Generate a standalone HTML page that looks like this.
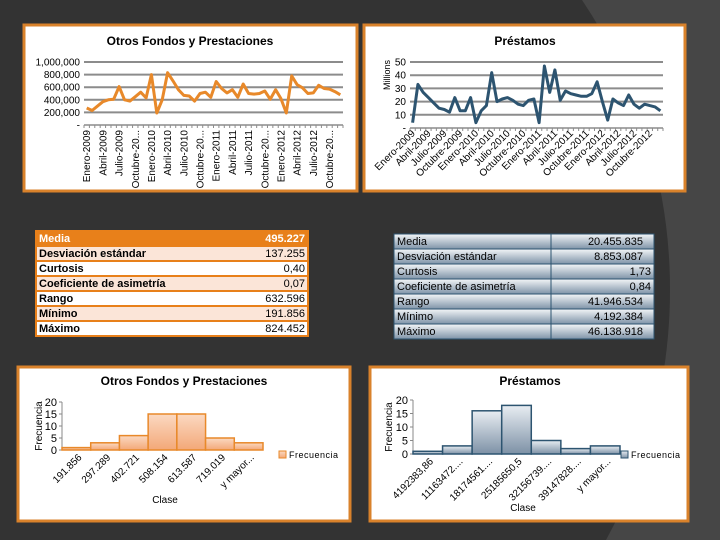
<!DOCTYPE html>
<html><head><meta charset="utf-8">
<style>
html,body{margin:0;width:720px;height:540px;overflow:hidden;background:#464646;font-family:"Liberation Sans",sans-serif;}
svg{display:block;overflow:hidden}
text{font-family:"Liberation Sans",sans-serif;}
</style></head>
<body>
<svg id="s" width="720" height="540" viewBox="0 0 720 540">
<defs>
<linearGradient id="og" x1="0" y1="0" x2="0" y2="1"><stop offset="0" stop-color="#fbd9c2"/><stop offset="1" stop-color="#f3a878"/></linearGradient>
<linearGradient id="bg" x1="0" y1="0" x2="0" y2="1"><stop offset="0" stop-color="#e8edf2"/><stop offset="1" stop-color="#7d91a6"/></linearGradient>
<linearGradient id="tg" x1="0" y1="0" x2="0" y2="1"><stop offset="0" stop-color="#f4f6f8"/><stop offset="1" stop-color="#7e93a8"/></linearGradient>
</defs>
<path d="M0,0 L582,0 A521,521 0 0 1 606,540 L0,540 Z" fill="#333333"/>
<g id="root"></g>
</svg>
<script>
// ---- data ----
const lineCats1 = ["Enero-2009","Abril-2009","Julio-2009","Octubre-20...","Enero-2010","Abril-2010","Julio-2010","Octubre-20...","Enero-2011","Abril-2011","Julio-2011","Octubre-20...","Enero-2012","Abril-2012","Julio-2012","Octubre-20..."];
const fondosValues = [270,230,300,370,400,410,610,400,380,450,520,430,800,190,400,830,700,560,470,460,380,500,520,440,690,580,510,560,440,650,500,490,500,540,410,560,420,190,780,640,590,500,510,630,580,570,530,480];
const fondosTicks = ["-","200,000","400,000","600,000","800,000","1,000,000"];
const lineCats2 = ["Enero-2009","Abril-2009","Julio-2009","Octubre-2009","Enero-2010","Abril-2010","Julio-2010","Octubre-2010","Enero-2011","Abril-2011","Julio-2011","Octubre-2011","Enero-2012","Abril-2012","Julio-2012","Octubre-2012"];
const prestValues = [4,33,27,23,19,15,14,12,23,13,13,23,4,13,17,42,20,22,23,21,18,17,21,22,4,47,27,44,21,28,26,25,24,24,26,35,20,6,22,19,17,25,18,15,18,17,16,13];
const prestTicks = ["-","10","20","30","40","50"];
const histCats1 = ["191.856","297.289","402.721","508.154","613.587","719.019","y mayor..."];
const histVals1 = [1,3,6,15,15,5,3];
const histCats2 = ["4192383,86","11163472....","18174561....","25185650,5","32156739....","39147828....","y mayor..."];
const histVals2 = [1,3,16,18,5,2,3];
const histTicks = ["0","5","10","15","20"];
const statLabels = ["Media","Desviación estándar","Curtosis","Coeficiente de asimetría","Rango","Mínimo","Máximo"];
const stats1 = ["495.227","137.255","0,40","0,07","632.596","191.856","824.452"];
const stats2 = ["20.455.835","8.853.087","1,73","0,84","41.946.534","4.192.384","46.138.918"];

const NS="http://www.w3.org/2000/svg";
const root=document.getElementById('root');
function el(tag,attrs,parent,txt){const e=document.createElementNS(NS,tag);for(const k in attrs)e.setAttribute(k,attrs[k]);if(txt!==undefined)e.textContent=txt;(parent||root).appendChild(e);return e;}

[[24,25,333,166,'panel-fondos-line'],[364,25,321,166,'panel-prestamos-line'],[18,367,332,154,'panel-fondos-hist'],[370,367,318,154,'panel-prestamos-hist']].forEach(p=>{
  const r=el('rect',{x:p[0],y:p[1],width:p[2],height:p[3],fill:'#fff',stroke:'#d9822b','stroke-width':3});
  
  
});

function lineChart(o){
  const g=el('g',{});
  
  
  const t=el('text',{x:o.tx,y:o.ty,'font-size':12,'font-weight':'bold','text-anchor':'middle',fill:'#000'},g,o.title);
  
  
  const n=o.values.length;
  const xs=i=>o.x0+(i+0.5)*(o.x1-o.x0)/n;
  const ys=v=>o.y0-(v/o.max)*(o.y0-o.y1);
  o.ticks.forEach((tk,i)=>{
    const v=i*o.max/(o.ticks.length-1);
    const y=ys(v);
    const gl=el('line',{x1:o.x0,x2:o.x1,y1:y,y2:y,stroke:'#8c8c8c','stroke-width':i==0?1.5:2},g);
    
    
    const tl=el('text',{x:o.x0-4,y:y+3.5,'font-size':10,'text-anchor':'end',fill:'#000'},g,tk);
    
    
  });
  for(let i=0;i<=n;i++){const x=o.x0+i*(o.x1-o.x0)/n;el('line',{x1:x,x2:x,y1:o.y0,y2:o.y0+3,stroke:'#8c8c8c'},g);}
  const pts=o.values.map((v,i)=>xs(i).toFixed(1)+','+ys(v).toFixed(1)).join(' ');
  const pl=el('polyline',{points:pts,fill:'none',stroke:o.color,'stroke-width':3,'stroke-linejoin':'round'},g);
  
  
  o.cats.forEach((c,k)=>{
    const x=xs(k*3);
    let tx;
    if(o.rot===-90){tx=el('text',{x:0,y:0,'font-size':10,'text-anchor':'end',transform:`translate(${x+3.5},${o.y0+5}) rotate(-90)`,fill:'#000'},g,c);}
    else{tx=el('text',{x:0,y:0,'font-size':10,'text-anchor':'end',transform:`translate(${x+3},${o.y0+6}) rotate(-45)`,fill:'#000'},g,c);}
    
    
  });
  if(o.unit){const u=el('text',{x:0,y:0,'font-size':9,'text-anchor':'middle',transform:`translate(${o.x0-20},${(o.y0+o.y1)/2-20}) rotate(-90)`},g,o.unit);
    
    }
}
lineChart({name:'fondos-line-chart',title:'Otros Fondos y Prestaciones',tx:190,ty:45,x0:84,x1:343,y0:125,y1:62,max:1000000,values:fondosValues.map(v=>v*1000),ticks:fondosTicks,cats:lineCats1,color:'#e8892a',rot:-90});
lineChart({name:'prestamos-line-chart',title:'Préstamos',tx:525,ty:45,x0:410,x1:663,y0:128,y1:62,max:50,values:prestValues,ticks:prestTicks,cats:lineCats2,color:'#2d5470',rot:-45,unit:'Millions'});

function hist(o){
  const g=el('g',{});
  
  
  const t=el('text',{x:o.tx,y:o.ty,'font-size':12,'font-weight':'bold','text-anchor':'middle'},g,o.title);
  
  
  const n=o.values.length,w=(o.x1-o.x0)/n;
  const ys=v=>o.y0-(v/20)*(o.y0-o.y1);
  histTicks.forEach((tk,i)=>{const y=ys(i*5);
    const tl=el('text',{x:o.x0-5,y:y+4,'font-size':11,'text-anchor':'end'},g,tk);
    
    
    el('line',{x1:o.x0-3,x2:o.x0,y1:y,y2:y,stroke:'#888'},g);});
  el('line',{x1:o.x0,x2:o.x0,y1:o.y1,y2:o.y0,stroke:'#888'},g);
  el('line',{x1:o.x0,x2:o.x1,y1:o.y0,y2:o.y0,stroke:'#888'},g);
  o.values.forEach((v,i)=>{
    const b=el('rect',{x:o.x0+i*w,y:ys(v),width:w,height:o.y0-ys(v),fill:o.fill,stroke:o.stroke,'stroke-width':1.5},g);
    
    
    const lx=o.x0+(i+0.5)*w;
    const tx=el('text',{x:0,y:0,'font-size':10,'text-anchor':'end',transform:`translate(${lx+6},${o.y0+8}) rotate(-45)`},g,o.cats[i]);
    
    
  });
  const ya=el('text',{x:0,y:0,'font-size':10,'text-anchor':'middle',transform:`translate(${o.yax},${(o.y0+o.y1)/2}) rotate(-90)`},g,'Frecuencia');
  
  
  const xa=el('text',{x:o.cx,y:o.cy,'font-size':10,'text-anchor':'middle'},g,'Clase');
  
  
  const lg=el('rect',{x:o.lx,y:o.ly-7,width:7,height:7,fill:o.fill,stroke:o.stroke},g);
  
  
  const lt=el('text',{x:o.lx+10,y:o.ly,'font-size':9,'letter-spacing':'0.5'},g,'Frecuencia');
  
  
}
hist({name:'fondos-histogram',title:'Otros Fondos y Prestaciones',tx:184,ty:385,x0:62,x1:263,y0:450,y1:402,values:histVals1,cats:histCats1,fill:'url(#og)',stroke:'#e8892a',yax:42,cx:165,cy:503,lx:279,ly:458});
hist({name:'prestamos-histogram',title:'Préstamos',tx:530,ty:385,x0:413,x1:620,y0:454,y1:400,values:histVals2,cats:histCats2,fill:'url(#bg)',stroke:'#2d5470',yax:392,cx:523,cy:511,lx:621,ly:458});

function table(o){
  const g=el('g',{});
  
  
  statLabels.forEach((lab,i)=>{
    const y=o.y+i*o.h;
    let fill;
    if(o.orange){fill=i==0?'#e8801a':(i%2?'#fbe5d8':'#ffffff');}
    else fill='url(#tg)';
    const r=el('rect',{x:o.x,y:y,width:o.w,height:o.h,fill:fill,stroke:o.orange?'#e8801a':'#2d5470','stroke-width':o.orange?2:1},g);
    
    
    if(!o.orange){el('line',{x1:o.x+o.cw,x2:o.x+o.cw,y1:y,y2:y+o.h,stroke:'#2d5470'},g);}
    const c=(o.orange&&i==0)?'#fff':'#000';
    const a=el('text',{x:o.x+3,y:y+o.h-4,'font-size':11,'font-weight':o.orange?'bold':'normal',fill:c},g,lab);
    
    
    const b=el('text',{x:o.x+o.w-3-(o.orange?0:(i==0||i==1||i>=4?8:0)),y:y+o.h-4,'font-size':11,'text-anchor':'end','font-weight':(o.orange&&i==0)?'bold':'normal',fill:c},g,o.vals[i]);
    
    
  });
}
table({name:'fondos-stats-table',x:36,y:231,w:272,h:15,vals:stats1,orange:true});
table({name:'prestamos-stats-table',x:394,y:234,w:260,h:15,cw:157,vals:stats2,orange:false});
</script>
</body></html>
